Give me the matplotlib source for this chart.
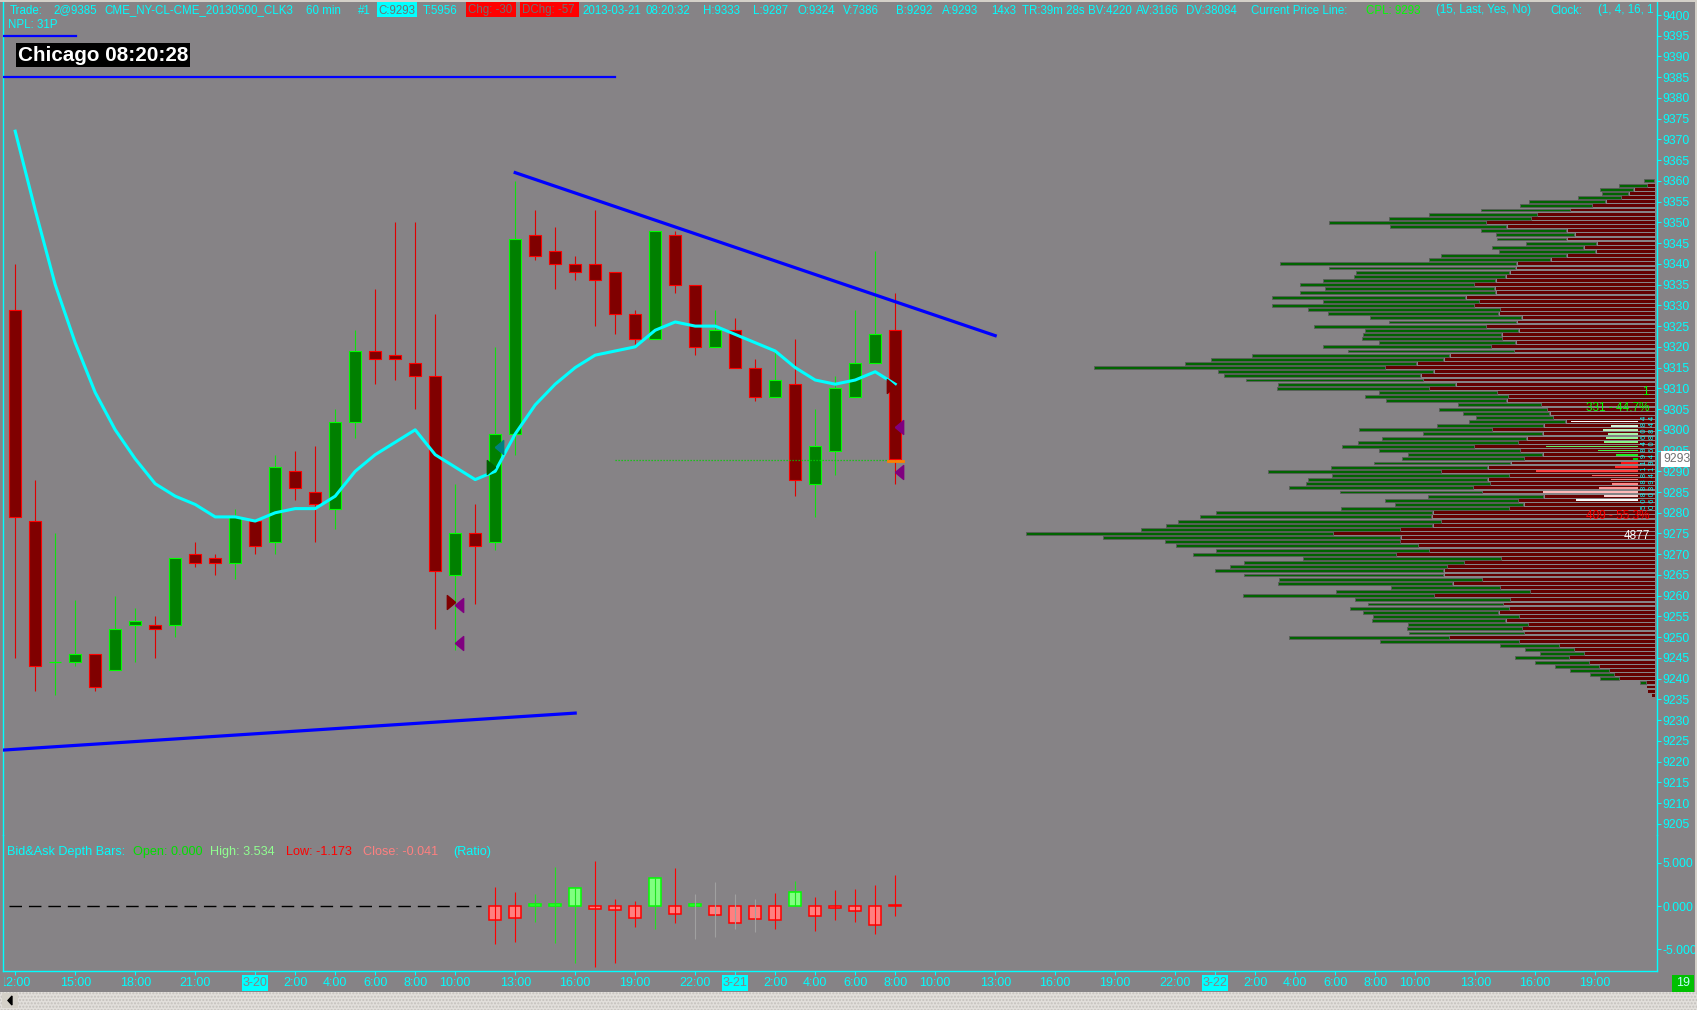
import matplotlib
matplotlib.use('Agg')
import matplotlib.pyplot as plt
from matplotlib.patches import Rectangle
from matplotlib.path import Path
from matplotlib.transforms import Bbox, TransformedBbox
import numpy as np

W, H = 1697, 1010
BG = '#868386'
CYAN = '#00ffff'
plt.rcParams['font.family'] = ['Liberation Sans', 'DejaVu Sans']

# --- 60 min candles, 3-19 12:00 .. 3-21 08:00 (bar index 0..44)
opens = [9329, 9278, 9244, 9244, 9246, 9242, 9253, 9253, 9253, 9270, 9269, 9268, 9278, 9273, 9290,
         9285, 9281, 9302, 9319, 9318, 9316, 9313, 9265, 9275, 9273, 9299, 9347, 9343, 9340, 9340,
         9338, 9328, 9322, 9347, 9335, 9320, 9324, 9315, 9308, 9311, 9287, 9295, 9308, 9316, 9324]
highs = [9340, 9288, 9275, 9259, 9246, 9260, 9257, 9255, 9269, 9273, 9270, 9281, 9278, 9294, 9295,
         9296, 9305, 9324, 9334, 9350, 9350, 9328, 9287, 9282, 9320, 9360, 9353, 9349, 9342, 9353,
         9338, 9329, 9348, 9348, 9335, 9329, 9327, 9317, 9319, 9322, 9305, 9313, 9329, 9343, 9333]
lows = [9245, 9237, 9236, 9243, 9237, 9242, 9244, 9245, 9250, 9267, 9265, 9264, 9270, 9270, 9283,
        9273, 9276, 9298, 9311, 9312, 9305, 9252, 9247, 9258, 9271, 9294, 9341, 9334, 9336, 9325,
        9323, 9320, 9322, 9333, 9318, 9320, 9315, 9307, 9308, 9284, 9279, 9289, 9308, 9316, 9287]
closes = [9279, 9243, 9244, 9246, 9238, 9252, 9254, 9252, 9269, 9268, 9268, 9279, 9272, 9291, 9286,
          9282, 9302, 9319, 9317, 9317, 9313, 9266, 9275, 9272, 9299, 9346, 9342, 9340, 9338, 9336,
          9328, 9322, 9348, 9335, 9320, 9324, 9315, 9308, 9312, 9288, 9296, 9310, 9316, 9323, 9293]
ma = [9372, 9353, 9335, 9321, 9309, 9300, 9293, 9287, 9284, 9282, 9279, 9279, 9278, 9280, 9281,
      9281, 9284, 9290, 9294, 9297, 9300, 9294, 9291, 9288, 9290, 9299, 9306, 9311, 9315, 9318,
      9319, 9320, 9324, 9326, 9325, 9325, 9323, 9321, 9319, 9315, 9312, 9311, 9312, 9314, 9311]

# --- Bid&Ask depth bars (ratio), bars 24..44
depth_start = 24
d_open = [0.0] * 21
d_high = [2.23, 1.58, 1.43, 4.50, 2.04, 5.20, 0.81, 0.62, 3.20, 4.42, 1.39, 2.73, 1.39, 0.81, 1.46,
          2.88, 1.04, 1.85, 1.96, 2.42, 3.534]
d_low = [-4.35, -4.12, -1.81, -4.27, -6.62, -7.08, -6.55, -2.39, -2.66, -1.93, -3.77, -3.58, -2.62,
         -2.97, -2.62, 0.0, -2.85, -1.65, -1.85, -3.20, -1.173]
d_close = [-1.65, -1.42, 0.23, 0.23, 2.04, -0.31, -0.50, -1.42, 3.20, -0.96, 0.23, -1.07, -2.00,
           -1.54, -1.65, 1.58, -1.19, -0.27, -0.62, -2.23, -0.041]
gray_wicks = [34, 35, 36, 37]

# --- volume profile, 9360 down to 9236
profile_top = 9360
bid_vol = [25, 64, 75, 61, 96, 170, 159, 196, 239, 313,
           344, 257, 188, 174, 155, 157, 203, 212, 277, 268,
           517, 408, 337, 333, 377, 383, 371, 429, 425, 344,
           442, 420, 373, 332, 281, 377, 336, 303, 309, 299,
           368, 365, 432, 508, 507, 636, 471, 430, 388, 390,
           335, 259, 314, 265, 184, 238, 192, 169, 214, 234,
           291, 264, 318, 350, 289, 308, 296, 267, 301, 343,
           378, 388, 393, 404, 402, 311, 255, 291, 283, 367,
           473, 506, 574, 582, 567, 670, 651, 513, 530, 465,
           443, 434, 480, 475, 501, 436, 444, 382, 239, 424,
           419, 341, 297, 349, 297, 321, 294, 263, 252, 252,
           352, 304, 130, 109, 98, 120, 120, 98, 87, 54,
           44, 15, 0, 0, 0]
ask_vol = [0, 15, 44, 55, 71, 105, 134, 182, 254, 267,
           365, 321, 190, 173, 190, 125, 153, 127, 190, 225,
           299, 301, 314, 323, 345, 391, 347, 345, 410, 380,
           391, 335, 338, 288, 299, 365, 295, 332, 330, 301,
           354, 304, 445, 458, 517, 585, 480, 508, 502, 432,
           489, 341, 317, 321, 246, 233, 227, 220, 192, 240,
           353, 242, 277, 296, 392, 292, 242, 283, 312, 362,
           464, 316, 362, 357, 394, 374, 240, 296, 284, 316,
           482, 484, 464, 482, 553, 699, 552, 553, 514, 490,
           562, 333, 414, 451, 458, 458, 374, 438, 335, 270,
           479, 313, 329, 316, 338, 294, 323, 274, 287, 283,
           446, 294, 207, 174, 152, 185, 141, 120, 98, 87,
           76, 17, 17, 15, 6]

# --- market depth overlay, 9302 down to 9283
depth_top = 9302
book_size = [146, 59, 76, 65, 70, 74, 200, 87, 48, 11, 37, 50, 222, 100, 59, 57, 85, 207, 74, 135]
book_colors = ['#ffffff', '#d8f4d8', '#b8f4b8', '#a8f4a8', '#98f498', '#88f488', '#60f060', '#40f040',
               '#20e820', '#00d000', '#ff1010', '#ff2828', '#ff4040', '#ff6060', '#ff7878', '#ff8888',
               '#ff9c9c', '#ffb8b8', '#ffd0d0', '#ffffff']

tick_idx = [0, 3, 6, 9, 12, 14, 16, 18, 20, 22, 25, 28, 31, 34, 36, 38, 40, 42, 44, 46, 49, 52, 55,
            58, 60, 62, 64, 66, 68, 70, 73, 76, 79]
tick_lab = ['12:00', '15:00', '18:00', '21:00', '3-20', '2:00', '4:00', '6:00', '8:00', '10:00',
            '13:00', '16:00', '19:00', '22:00', '3-21', '2:00', '4:00', '6:00', '8:00', '10:00',
            '13:00', '16:00', '19:00', '22:00', '3-22', '2:00', '4:00', '6:00', '8:00', '10:00',
            '13:00', '16:00', '19:00']

# header pieces: (x pixel, text, colour)
header = [(9.8, 'Trade:', CYAN), (53, '2@9385', CYAN), (104, 'CME_NY-CL-CME_20130500_CLK3', CYAN),
          (306, '60 min', CYAN), (357.7, '#1', CYAN), (378, 'C:9293', '#707070'),
          (422.8, 'T:5956', CYAN), (467.5, 'Chg: -30', '#707070'), (521.5, 'DChg: -57', '#707070'),
          (582.6, '2013-03-21', CYAN), (643, '08:20:32', CYAN), (703, 'H:9333', CYAN),
          (753.4, 'L:9287', CYAN), (797.8, 'O:9324', CYAN), (843, 'V:7386', CYAN),
          (896, 'B:9292', CYAN), (941.8, 'A:9293', CYAN), (991.5, '14x3', CYAN),
          (1021.8, 'TR:39m 28s', CYAN), (1083, 'BV:4220', CYAN), (1135, 'AV:3166', CYAN),
          (1186, 'DV:38084', CYAN), (1251, 'Current Price Line:', CYAN), (1366, 'CPL: 9293', '#00ff00'),
          (1436, '(15, Last, Yes, No)', CYAN), (1550, 'Clock:', CYAN), (1598, '(1, 4, 16, 1', CYAN)]


def fx(x):
    return x / W


def fy(y):
    return 1 - y / H


fig = plt.figure(figsize=(W / 100, H / 100), dpi=100, facecolor=BG)

XL = (-0.61, 82.09)
YL = (9202.31, 9403.62)

ax = fig.add_axes([fx(3), fy(835), (1657 - 3) / W, 835 / H])
ax.set_facecolor('none')
ax.set_xlim(*XL)
ax.set_ylim(*YL)
for s in ['top', 'bottom']:
    ax.spines[s].set_visible(False)
for s in ['left', 'right']:
    ax.spines[s].set_color(CYAN)
    ax.spines[s].set_linewidth(1)
ax.yaxis.tick_right()
ax.set_yticks(range(9205, 9401, 5))
ax.tick_params(axis='y', colors=CYAN, length=3, width=0.8, pad=1, labelsize=8.8)
ax.set_xticks([])

# candles
for i in range(len(opens)):
    o, h, l, c = opens[i], highs[i], lows[i], closes[i]
    up = c >= o
    wick = '#10e010' if up else '#e00000'
    ax.vlines(i, l, h, color=wick, lw=0.8, zorder=2)
    if o == c:
        ax.hlines(c, i - 0.3, i + 0.3, color='#00ff00' if up else '#ff0000', lw=0.9, zorder=3)
    else:
        ax.add_patch(Rectangle((i - 0.3, min(o, c)), 0.6, abs(c - o),
                               facecolor='#008000' if up else '#800000',
                               edgecolor='#00ff00' if up else '#ff0000', lw=0.8, zorder=3))

ax.plot(range(len(ma)), ma, color=CYAN, lw=2.2, zorder=4, solid_joinstyle='round')

# drawn lines
ax.plot([-0.6, 3.05], [9395, 9395], color='#0000ff', lw=1.6, zorder=5)
ax.plot([-0.6, 30.0], [9385, 9385], color='#0000ff', lw=1.6, zorder=5)
ax.plot([25, 49], [9362, 9322.7], color='#0000ff', lw=2.3, zorder=5)
ax.plot([-0.55, 28.0], [9222.8, 9231.7], color='#0000ff', lw=2.3, zorder=5)
ax.plot([30, 43.6], [9292.6, 9292.6], color='#00d000', lw=0.9, ls=(0, (1, 1.4)), zorder=5)
ax.plot([43.65, 44.4], [9292.4, 9292.4], color='#ff8000', lw=2.0, zorder=6)

tri_r = Path([(0.6, 0), (-0.6, 1), (-0.6, -1), (0.6, 0)])
tri_l = Path([(-0.6, 0), (0.6, 1), (0.6, -1), (-0.6, 0)])
marks = [(21.8, 9258.6, tri_r, '#800000'), (22.2, 9257.7, tri_l, '#800080'),
         (22.2, 9248.5, tri_l, '#800080'), (24.2, 9295.8, tri_l, '#008080'),
         (23.8, 9291.0, tri_r, '#006000'), (43.78, 9310.6, tri_r, '#800000'),
         (44.2, 9300.7, tri_l, '#800080'), (44.2, 9289.8, tri_l, '#800080')]
for mx, my, mk, mc in marks:
    ax.plot(mx, my, marker=mk, ms=10, color=mc, mec=mc, ls='none', zorder=7)

# volume profile
axp = fig.add_axes([fx(940), fy(835), (1655 - 940) / W, 835 / H])
axp.set_facecolor('none')
axp.set_xlim(1557, 0)
axp.set_ylim(*YL)
axp.axis('off')
prices = profile_top - np.arange(len(bid_vol))
axp.barh(prices, ask_vol, left=0, height=0.7, color='#640000', lw=0)
gb = np.array(bid_vol, dtype=float)
axp.barh(prices[gb > 3], gb[gb > 3] - 3, left=np.array(ask_vol)[gb > 3] + 3, height=0.7,
         color='#006400', edgecolor='#5a5a5a', lw=0.6)
bprices = depth_top - np.arange(len(book_size))
axp.barh(bprices, book_size, left=37, height=0.42, color=book_colors, lw=0)

# lower panel
ax2 = fig.add_axes([fx(3), fy(971), (1657 - 3) / W, 136 / H])
ax2.set_facecolor('none')
ax2.set_xlim(*XL)
ax2.set_ylim(-7.506, 8.199)
ax2.spines['top'].set_visible(False)
for s in ['left', 'right', 'bottom']:
    ax2.spines[s].set_color(CYAN)
    ax2.spines[s].set_linewidth(1)
ax2.yaxis.tick_right()
ax2.set_yticks([5, 0, -5])
ax2.set_yticklabels(['5.000', '0.000', '-5.000'])
ax2.tick_params(axis='y', colors=CYAN, length=3, width=0.8, pad=1, labelsize=8.8)
ax2.set_xticks(tick_idx)
ax2.set_xticklabels(tick_lab)
ax2.tick_params(axis='x', colors=CYAN, length=3, width=0.8, pad=1.6, labelsize=9)
for t, lab in zip(tick_idx, ax2.get_xticklabels()):
    if '-' in lab.get_text():
        lab.set_color(BG)
        ax2.add_patch(Rectangle((t - 0.64, -9.85), 1.28, 1.85, facecolor=CYAN, lw=0,
                                clip_on=False, zorder=1))
# first label is cut by the window edge
lab0 = ax2.get_xticklabels()[0]
lab0.set_clip_box(TransformedBbox(Bbox.from_extents(fx(3.5), 0, 1, 1), fig.transFigure))
lab0.set_clip_on(True)

ax2.plot([-0.32, 23.3], [0, 0], color='black', lw=1, dashes=(9, 5))
for k in range(len(d_close)):
    i = depth_start + k
    o, h, l, c = d_open[k], d_high[k], d_low[k], d_close[k]
    up = c > o
    edge = '#00ff00' if up else '#ff0000'
    wick = '#a0a0a0' if i in gray_wicks else ('#20e020' if up else '#ff0000')
    ax2.vlines(i, l, h, color=wick, lw=0.8)
    ax2.add_patch(Rectangle((i - 0.3, min(o, c)), 0.6, max(abs(c - o), 0.12),
                            facecolor='#80ff80' if up else '#ff8080', edgecolor=edge, lw=1.1))


def ptext(x, y, s, color=CYAN, size=9.0, ha='left', **kw):
    return fig.text(fx(x), fy(y), s, color=color, fontsize=size, ha=ha, va='center', **kw)


def pbox(x0, y0, x1, y1, color, z=1):
    fig.add_artist(Rectangle((fx(x0), fy(y1)), (x1 - x0) / W, (y1 - y0) / H,
                             transform=fig.transFigure, facecolor=color, lw=0, zorder=z))


# header: each piece at its place, pushed right if the previous one is longer
pbox(376.7, 2, 417.3, 17, CYAN)
pbox(466, 2, 516, 17, '#ff0000')
pbox(520, 2, 579, 17, '#ff0000')
renderer = fig.canvas.get_renderer()
prev_end = 0
for hx, hs, hc in header:
    t = ptext(max(hx, prev_end + 4), 10.5, hs, color=hc, size=8.3)
    prev_end = t.get_window_extent(renderer).x1
ptext(8, 25, 'NPL: 31P', size=8.3)

pbox(16, 43, 190, 67, 'black')
ptext(18.5, 55.5, 'Chicago 08:20:28', color='white', size=14.9, fontweight='bold')

# lower panel title
ptext(7, 851.7, 'Bid&Ask Depth Bars:', size=9.1)
ptext(133, 851.7, 'Open: 0.000', color='#00e000', size=9.1)
ptext(210, 851.7, 'High: 3.534', color='#90ff90', size=9.1)
ptext(286, 851.7, 'Low: -1.173', color='#ff0000', size=9.1)
ptext(363, 851.7, 'Close: -0.041', color='#ff8080', size=9.1)
ptext(453, 851.7, '(Ratio)', size=9.1)

# profile labels
ptext(1649, 392, '1', color='#00ff00', size=8.5, ha='right')
ptext(1650, 408, '331 - 44.7%', color='#00ff00', size=8.5, ha='right')
ptext(1650, 516, '409 - 55.3%', color='#ff0000', size=8.5, ha='right')
ptext(1650, 536, '4877', color='white', size=8.5, ha='right')
ptext(1645, 462, '5 0 8 8 8 8 1 1 9 8 4 6 0 8 4', size=5.5, ha='center', rotation=90)
ptext(1652, 462, '0 6 0 3 9 4 1 9 4 6 0 8 8 4 4', size=5.5, ha='center', rotation=90)

# current price box on axis
pbox(1661, 451, 1690, 467, 'white', z=2)
ptext(1663, 459, '9293', color='#707070', size=8.8, zorder=3)

# window chrome
pbox(1695, 0, W, H, '#d4d0c8', z=5)
pbox(0, 0, W, 2, '#d4d0c8', z=5)
fig.add_artist(Rectangle((0, 0), 1, 18 / H, transform=fig.transFigure, facecolor='#e2dfdb',
                         edgecolor='#c4c0bc', hatch='.....', lw=0, zorder=5))
pbox(2, 993, 18, 1008, '#d4d0c8', z=6)
fig.add_artist(plt.Polygon([(fx(8), fy(1000.5)), (fx(12), fy(996)), (fx(12), fy(1005))],
                           transform=fig.transFigure, color='black', zorder=7))
pbox(1672, 975, 1694, 992, '#00c000', z=6)
ptext(1683, 983.5, '19', color='#c0ffff', size=9, ha='center', zorder=7)

fig.savefig('out.png', dpi=100, facecolor=BG)
